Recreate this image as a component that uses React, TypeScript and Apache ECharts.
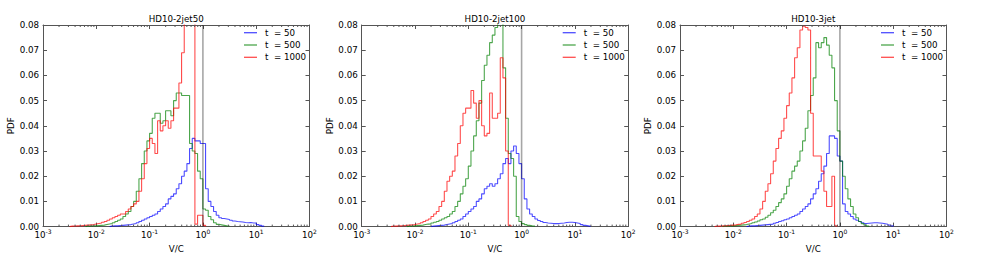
import React, { useEffect, useRef } from 'react';
import * as echarts from 'echarts';

// ---- chart texts ----
const TITLES = ['HD10-2jet50', 'HD10-2jet100', 'HD10-3jet'];
const SERIES_NAMES = ['t  = 50', 't  = 500', 't  = 1000'];
const X_NAME = 'V/C';
const Y_NAME = 'PDF';

// ---- axes ----
const X_MIN = 0.001;
const X_MAX = 100;
const Y_MIN = 0;
const Y_MAX = 0.08;
const Y_INTERVAL = 0.01;
const REF_X = 1; // vertical reference line at V/C = 1

// ---- histogram bins: log-spaced, 20 per decade starting at 10^-3 ----
const BIN_LOG_MIN = -3;
const BINS_PER_DECADE = 20;

// ---- HD10-2jet50 ----
const P1_T50_START = 25;
const P1_T50 = [
  0.0002, 0.0003, 0.0003, 0.0004, 0.0005, 0.0006, 0.0007, 0.0008, 0.001, 0.0012,
  0.0015, 0.002, 0.0025, 0.003, 0.0035, 0.004, 0.0045, 0.005, 0.006, 0.007,
  0.008, 0.009, 0.011, 0.012, 0.013, 0.015, 0.017, 0.02, 0.022, 0.025,
  0.031, 0.035, 0.034, 0.034, 0.033, 0.033, 0.015, 0.01, 0.008, 0.006,
  0.0045, 0.0035, 0.0032, 0.003, 0.0028, 0.0025, 0.0022, 0.002, 0.0019, 0.0018,
  0.0016, 0.0015, 0.0016, 0.0014, 0.0014, 0.0008, 0.0005, 0.0002,
];
const P1_T500_START = 16;
const P1_T500 = [
  0.0002, 0.0002, 0.0003, 0.0003, 0.0004, 0.0005, 0.0006, 0.0008, 0.001,
  0.0012, 0.0015, 0.002, 0.0025, 0.003, 0.004, 0.005, 0.006, 0.008, 0.01,
  0.014, 0.019, 0.025, 0.03, 0.034, 0.037, 0.043, 0.045, 0.045, 0.041,
  0.042, 0.046, 0.046, 0.044, 0.05, 0.053, 0.053, 0.052, 0.052, 0.052,
  0.033, 0.03, 0.029, 0.022, 0.019, 0.007, 0.0065, 0.004, 0.0027, 0.0015,
  0.0009, 0.0007, 0.0005, 0.0003, 0.0002,
];
const P1_T1000_START = 10;
const P1_T1000 = [
  0.0002, 0.0002, 0.0003, 0.0003, 0.0004, 0.0005, 0.0006, 0.0007, 0.0008, 0.001,
  0.0012, 0.0014, 0.0017, 0.002, 0.0025, 0.003, 0.0035, 0.004, 0.0045, 0.005,
  0.005, 0.006, 0.007, 0.008, 0.009, 0.01, 0.014, 0.019, 0.025, 0.031,
  0.035, 0.033, 0.029, 0.042, 0.038, 0.04, 0.042, 0.039, 0.042, 0.047,
  0.047, 0.057, 0.069, 0.12, 0.15, 0.15, 0.13, 0.001, 0.0045, 0.0045,
  0.0005,
];

// ---- HD10-2jet100 ----
const P2_T50_START = 26;
const P2_T50 = [
  0.0002, 0.0003, 0.0004, 0.0005, 0.0006, 0.0008, 0.001, 0.0012, 0.0015,
  0.002, 0.0025, 0.003, 0.004, 0.005, 0.006, 0.007, 0.008, 0.01, 0.011,
  0.013, 0.015, 0.016, 0.017, 0.016, 0.017, 0.019, 0.021, 0.025, 0.027,
  0.025, 0.03, 0.032, 0.029, 0.025, 0.019, 0.011, 0.007, 0.005, 0.004,
  0.003, 0.0024, 0.002, 0.0016, 0.0014, 0.0013, 0.0012, 0.0012, 0.0012, 0.0013,
  0.0014, 0.0016, 0.0017, 0.0017, 0.0016, 0.0014, 0.0012, 0.0008, 0.0005, 0.0003,
  0.0001,
];
const P2_T500_START = 17;
const P2_T500 = [
  0.0002, 0.0002, 0.0003, 0.0004, 0.0005, 0.0006, 0.0008, 0.001,
  0.0011, 0.0014, 0.0017, 0.002, 0.0025, 0.003, 0.0035, 0.004, 0.005, 0.006,
  0.008, 0.01, 0.013, 0.016, 0.019, 0.024, 0.03, 0.036, 0.042, 0.049,
  0.058, 0.064, 0.068, 0.073, 0.076, 0.079, 0.083, 0.085, 0.063, 0.043,
  0.029, 0.027, 0.02, 0.004, 0.002, 0.0012, 0.0008, 0.0005, 0.0003, 0.0002,
];
const P2_T1000_START = 11;
const P2_T1000 = [
  0.0002, 0.0002, 0.0003, 0.0003, 0.0004, 0.0005, 0.0006, 0.0007, 0.0008,
  0.001, 0.0012, 0.0015, 0.002, 0.0025, 0.003, 0.004, 0.005, 0.006, 0.008,
  0.01, 0.014, 0.018, 0.02, 0.022, 0.028, 0.033, 0.04, 0.045, 0.047,
  0.047, 0.054, 0.049, 0.043, 0.05, 0.04, 0.036, 0.037, 0.053, 0.043,
  0.043, 0.045, 0.067, 0.059, 0.03, 0.0005,
];

// ---- HD10-3jet ----
const P3_T50_START = 25;
const P3_T50 = [
  0.0002, 0.0003, 0.0003, 0.0004, 0.0005, 0.0006, 0.0007, 0.0008, 0.0009, 0.001,
  0.0013, 0.0016, 0.002, 0.0023, 0.0027, 0.003, 0.0035, 0.004, 0.0045, 0.005,
  0.006, 0.007, 0.008, 0.009, 0.011, 0.013, 0.015, 0.018, 0.021, 0.024,
  0.029, 0.036, 0.036, 0.035, 0.028, 0.026, 0.009, 0.006, 0.005, 0.004,
  0.003, 0.0025, 0.002, 0.0015, 0.0012, 0.0013, 0.0014, 0.0015, 0.0015, 0.0014,
  0.0013, 0.0011, 0.0009, 0.0006, 0.0003,
];
const P3_T500_START = 16;
const P3_T500 = [
  0.0002, 0.0002, 0.0003, 0.0003, 0.0004, 0.0005, 0.0006, 0.0007, 0.0008,
  0.001, 0.0012, 0.0015, 0.0018, 0.0022, 0.0027, 0.003, 0.0037, 0.0045, 0.0055,
  0.0065, 0.008, 0.0095, 0.011, 0.013, 0.016, 0.019, 0.022, 0.024, 0.026,
  0.03, 0.034, 0.039, 0.046, 0.052, 0.059, 0.073, 0.071, 0.073, 0.075,
  0.072, 0.068, 0.063, 0.05, 0.038, 0.026, 0.02, 0.015, 0.011, 0.008,
  0.005, 0.0035, 0.002, 0.0012, 0.0006, 0.0002,
];
const P3_T1000_START = 13;
const P3_T1000 = [
  0.0002, 0.0002, 0.0003, 0.0003, 0.0004, 0.0005, 0.0006, 0.0007, 0.0009,
  0.001, 0.0013, 0.0016, 0.002, 0.0025, 0.003, 0.004, 0.005, 0.007, 0.01,
  0.014, 0.017, 0.021, 0.026, 0.031, 0.035, 0.038, 0.043, 0.048, 0.053,
  0.059, 0.067, 0.071, 0.078, 0.0795, 0.079, 0.078, 0.045, 0.028, 0.028,
  0.028, 0.022, 0.014, 0.008, 0.008, 0.02, 0.0003,
];

const PANEL_DATA = [
  [
    { start: P1_T50_START, vals: P1_T50 },
    { start: P1_T500_START, vals: P1_T500 },
    { start: P1_T1000_START, vals: P1_T1000 },
  ],
  [
    { start: P2_T50_START, vals: P2_T50 },
    { start: P2_T500_START, vals: P2_T500 },
    { start: P2_T1000_START, vals: P2_T1000 },
  ],
  [
    { start: P3_T50_START, vals: P3_T50 },
    { start: P3_T500_START, vals: P3_T500 },
    { start: P3_T1000_START, vals: P3_T1000 },
  ],
];

// ---- styling / layout ----
const FONT = 'DejaVu Sans';
const FS = 8.7;
const COLORS = ['rgba(0,0,255,0.7)', 'rgba(0,128,0,0.7)', 'rgba(255,0,0,0.7)'];
const FRAME = '#555';
const GRID_LEFTS = [43, 361.7, 680];
const GRID_TOP = 25;
const GRID_W = 266.5;
const GRID_H = 206.7;
const LEGEND_DX = 201;

const edge = (k: number) => Math.pow(10, BIN_LOG_MIN + k / BINS_PER_DECADE);

function stepPoints(start: number, vals: number[]) {
  const pts: number[][] = [[edge(start), 0]];
  vals.forEach((v, i) => {
    pts.push([edge(start + i), v]);
    pts.push([edge(start + i + 1), v]);
  });
  pts.push([edge(start + vals.length), 0]);
  return pts;
}

const MINOR_TICKS: number[][] = [];
for (let d = -3; d < 2; d++) {
  for (let m = 2; m <= 9; m++) MINOR_TICKS.push([m * Math.pow(10, d), 0]);
}

export default function App() {
  const ref = useRef<HTMLDivElement>(null);
  useEffect(() => {
    if (!ref.current) return;
    const chart = echarts.init(ref.current, undefined, { renderer: 'svg' });

    const grid: any[] = [];
    const xAxis: any[] = [];
    const yAxis: any[] = [];
    const series: any[] = [];
    const title: any[] = [];
    const legend: any[] = [];

    GRID_LEFTS.forEach((left, g) => {
      grid.push({ left, top: GRID_TOP, width: GRID_W, height: GRID_H, show: false });
      const common = {
        gridIndex: g,
        axisLine: { show: true, onZero: false, lineStyle: { color: FRAME, width: 1 } },
        axisTick: { show: true, inside: true, length: 4, lineStyle: { color: FRAME } },
        splitLine: { show: false },
      };
      // bottom x
      xAxis.push({
        ...common,
        type: 'log',
        logBase: 10,
        min: X_MIN,
        max: X_MAX,
        position: 'bottom',
        name: X_NAME,
        nameLocation: 'middle',
        nameGap: 14,
        nameTextStyle: { fontFamily: FONT, fontSize: FS, color: '#000' },
        axisLabel: {
          margin: 2,
          formatter: (v: number) => `{b|10}{s|${Math.round(Math.log10(v))}}`,
          rich: {
            b: { fontFamily: FONT, fontSize: FS, lineHeight: 12, color: '#000' },
            s: { fontFamily: FONT, fontSize: 6, lineHeight: 5.6, verticalAlign: 'top', color: '#000' },
          },
        },
      });
      // top x
      xAxis.push({
        ...common,
        type: 'log',
        logBase: 10,
        min: X_MIN,
        max: X_MAX,
        position: 'top',
        axisLabel: { show: false },
      });
      // left y
      yAxis.push({
        ...common,
        type: 'value',
        min: Y_MIN,
        max: Y_MAX,
        interval: Y_INTERVAL,
        position: 'left',
        name: Y_NAME,
        nameLocation: 'middle',
        nameRotate: 90,
        nameGap: 25,
        nameTextStyle: { fontFamily: FONT, fontSize: FS, color: '#000' },
        axisLabel: {
          margin: 4,
          fontFamily: FONT,
          fontSize: FS,
          color: '#000',
          formatter: (v: number) => v.toFixed(2),
        },
      });
      // right y
      yAxis.push({
        ...common,
        type: 'value',
        min: Y_MIN,
        max: Y_MAX,
        interval: Y_INTERVAL,
        position: 'right',
        axisLabel: { show: false },
      });

      const xi = 2 * g;
      const yi = 2 * g;
      PANEL_DATA[g].forEach((s, i) => {
        series.push({
          type: 'line',
          name: SERIES_NAMES[i],
          xAxisIndex: xi,
          yAxisIndex: yi,
          data: stepPoints(s.start, s.vals),
          symbol: 'none',
          clip: true,
          color: COLORS[i],
          lineStyle: { color: COLORS[i], width: 1.1 },
          itemStyle: { color: COLORS[i] },
          z: 3,
        });
      });
      // vertical reference line at V/C = 1
      series.push({
        type: 'line',
        name: 'ref',
        xAxisIndex: xi,
        yAxisIndex: yi,
        data: [[REF_X, Y_MIN], [REF_X, Y_MAX]],
        symbol: 'none',
        silent: true,
        lineStyle: { color: 'rgba(0,0,0,0.35)', width: 1.6 },
        z: 4,
      });
      // minor log ticks (bottom and top)
      series.push({
        type: 'custom',
        name: 'minor',
        xAxisIndex: xi,
        yAxisIndex: yi,
        data: MINOR_TICKS,
        encode: { x: 0, y: 1 },
        silent: true,
        clip: false,
        renderItem: (params: any, api: any) => {
          const v = api.value(0);
          const pb = api.coord([v, Y_MIN]);
          const pt = api.coord([v, Y_MAX]);
          const st = { stroke: FRAME, lineWidth: 1 };
          return {
            type: 'group',
            children: [
              { type: 'line', shape: { x1: pb[0], y1: pb[1], x2: pb[0], y2: pb[1] - 2 }, style: st },
              { type: 'line', shape: { x1: pt[0], y1: pt[1], x2: pt[0], y2: pt[1] + 2 }, style: st },
            ],
          };
        },
        z: 5,
      });

      title.push({
        text: TITLES[g],
        left: left + GRID_W / 2,
        top: 14,
        textAlign: 'center',
        padding: 0,
        textStyle: { fontFamily: FONT, fontSize: FS, fontWeight: 'normal', color: '#000' },
      });
      legend.push({
        data: SERIES_NAMES,
        orient: 'vertical',
        left: left + LEGEND_DX,
        top: 27.7,
        icon: 'rect',
        itemWidth: 13,
        itemHeight: 1.3,
        itemGap: 2.3,
        selectedMode: false,
        padding: 0,
        textStyle: { fontFamily: FONT, fontSize: FS, color: '#000', lineHeight: 10, padding: [0, 0, 0, 3] },
      });
    });

    chart.setOption({
      animation: false,
      backgroundColor: '#fff',
      textStyle: { fontFamily: FONT },
      title,
      legend,
      grid,
      xAxis,
      yAxis,
      series,
    });
    return () => chart.dispose();
  }, []);

  return (
    <div
      ref={ref}
      style={{ position: 'absolute', left: 0, top: 0, width: 981, height: 258 }}
    />
  );
}
